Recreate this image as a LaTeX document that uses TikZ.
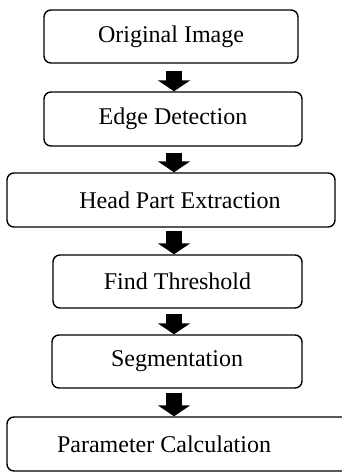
\documentclass[tikz,border=0pt]{standalone}
\usepackage{fontspec}
\setmainfont{Liberation Serif}
\usetikzlibrary{arrows.meta}
\begin{document}
\begin{tikzpicture}[x=1pt,y=-1pt,
  stepbox/.style={draw=black, line width=1.4pt, rounded corners=7pt, inner sep=0pt,
    font=\fontsize{24}{28}\selectfont, anchor=center},
  blockarrow/.style={line width=16pt, -{Triangle[width=32pt,length=11pt]}, black}]
\clip (0,0) rectangle (342,472);
\fill[white] (0,0) rectangle (342,472);
\node[stepbox, minimum width=254pt, minimum height=53pt] (b1) at (171,36.5) {Original Image};
\node[stepbox, minimum width=258pt, minimum height=54pt] (b2) at (173,119) {Edge Detection};
\node[stepbox, minimum width=328pt, minimum height=54pt] (b3) at (171,200) {\hspace*{18pt}Head Part Extraction};
\node[stepbox, minimum width=249pt, minimum height=53pt] (b4) at (177.5,281.5) {Find Threshold};
\node[stepbox, minimum width=250pt, minimum height=53pt] (b5) at (177,361.5) {Segmentation};
\node[stepbox, minimum width=353pt, minimum height=54pt] (b6) at (183.5,444) {Parameter Calculation\hspace*{39pt}};
\coordinate (ax) at (174,0);
\draw[blockarrow] ([yshift=-7pt]b1.south -| ax) -- (b2.north -| ax);
\draw[blockarrow] ([yshift=-6pt]b2.south -| ax) -- (b3.north -| ax);
\draw[blockarrow] ([yshift=-3pt]b3.south -| ax) -- (b4.north -| ax);
\draw[blockarrow] ([yshift=-5pt]b4.south -| ax) -- (b5.north -| ax);
\draw[blockarrow] ([yshift=-4pt]b5.south -| ax) -- (b6.north -| ax);
\end{tikzpicture}
\end{document}
